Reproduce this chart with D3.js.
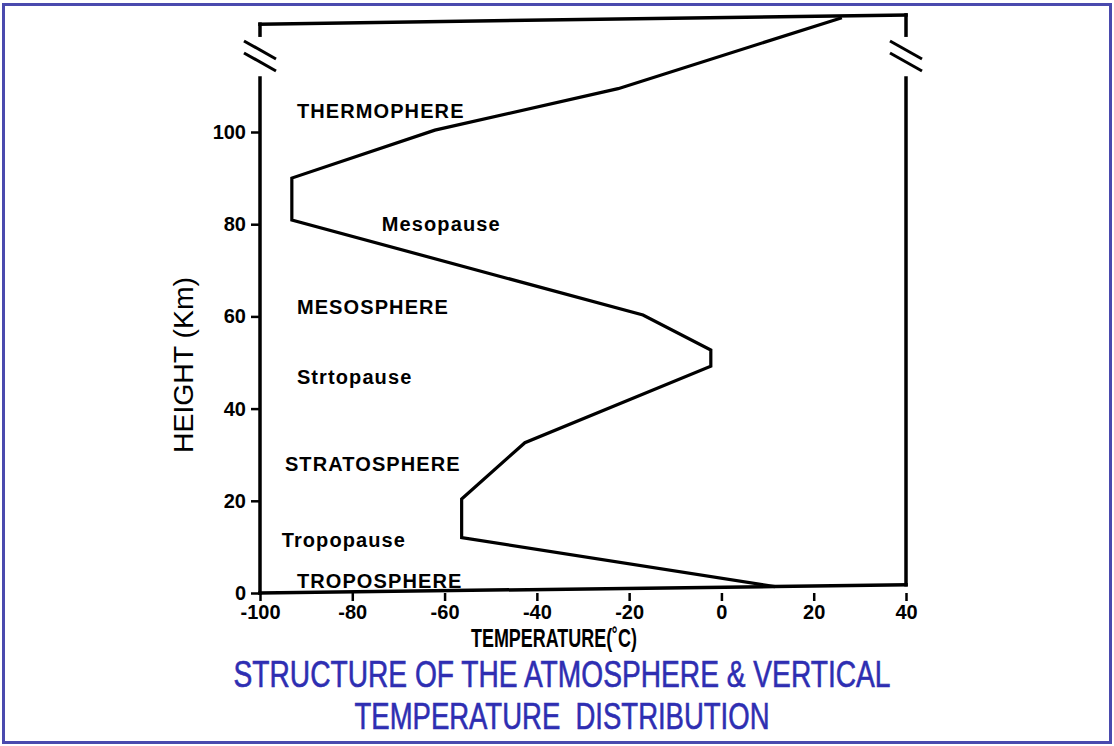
<!DOCTYPE html>
<html>
<head>
<meta charset="utf-8">
<script src="https://cdn.jsdelivr.net/npm/d3@7"></script>
<style>
  body { margin: 0; background: #fff; }
  text { font-family: "Liberation Sans", Arial, sans-serif; }
</style>
</head>
<body>
<div id="chart"></div>
<script>
// temperature profile (deg C vs km)
var profileTemp   = [11.6, -56.3, -56.3, -42.6, -2.3, -2.3, -17.0, -93.1, -93.1, -62.1, -22.4, 26.1];
var profileHeight = [1.4, 12.0, 20.4, 32.6, 49.2, 52.7, 60.3, 80.9, 90.0, 100.4, 109.4, 124.8];

// ground line and top of the (broken) frame
var groundTemp = [-100, 11.6, 40];
var groundHeight = [0, 1.4, 1.8];
var topTemp = [-100, 40];
var topHeight = [123.4, 125.4];

var xTicks = [-100, -80, -60, -40, -20, 0, 20, 40];
var yTicks = [0, 20, 40, 60, 80, 100];

var layerNames   = ["THERMOPHERE", "Mesopause", "MESOSPHERE", "Strtopause", "STRATOSPHERE", "Tropopause", "TROPOSPHERE"];
var layerTemps   = [-92.0, -73.6, -92.0, -92.0, -94.6, -95.3, -92.0];
var layerHeights = [104.7, 80.0, 62.1, 46.9, 28.0, 11.5, 2.7];

var titleLines = ["STRUCTURE OF THE ATMOSPHERE & VERTICAL", "TEMPERATURE  DISTRIBUTION"];

var W = 1114, H = 746;
var svg = d3.select("#chart").append("svg")
    .attr("width", W)
    .attr("height", H);

// blue outer border
svg.append("rect")
    .attr("x", 3.5).attr("y", 4.5)
    .attr("width", W - 7).attr("height", H - 8)
    .attr("fill", "none")
    .attr("stroke", "#4a4aae")
    .attr("stroke-width", 3);

var x = d3.scaleLinear().domain([-100, 40]).range([260, 906]);
var y = d3.scaleLinear().domain([0, 100]).range([593, 132]);

var line = d3.line()
    .x(function (d) { return x(d[0]); })
    .y(function (d) { return y(d[1]); });

// x axis ticks (the axis line itself is the ground line)
var xAxis = svg.append("g")
    .attr("transform", "translate(0," + y(0) + ")")
    .call(d3.axisBottom(x).tickValues(xTicks).tickSize(8).tickPadding(4)
      .tickFormat(function (d) { return String(d); }));
xAxis.select(".domain").remove();
xAxis.selectAll("line").attr("stroke", "#000").attr("stroke-width", 2.5);
xAxis.selectAll("text")
    .attr("fill", "#000")
    .style("font-size", "20px")
    .style("font-weight", "bold");

var yAxis = svg.append("g")
    .attr("transform", "translate(" + x(-100) + ",0)")
    .call(d3.axisLeft(y).tickValues(yTicks).tickSize(9).tickPadding(5)
      .tickFormat(function (d) { return String(d); }));
yAxis.select(".domain").remove();
yAxis.selectAll("line").attr("stroke", "#000").attr("stroke-width", 2.5);
yAxis.selectAll("text")
    .attr("fill", "#000")
    .style("font-size", "20px")
    .style("font-weight", "bold");

// frame: sides with break, ground, top
var breakLow = 111.7, breakHigh = 121.0, breakMid = 116.5;
var frame = svg.append("g")
    .attr("fill", "none")
    .attr("stroke", "#000")
    .attr("stroke-width", 3.5)
    .attr("stroke-linecap", "square");

frame.append("path").attr("d", line([[-100, 0], [-100, breakLow]]));
frame.append("path").attr("d", line([[-100, breakHigh], [-100, topHeight[0]]]));
frame.append("path").attr("d", line([[40, groundHeight[2]], [40, breakLow]]));
frame.append("path").attr("d", line([[40, breakHigh], [40, topHeight[1]]]));
frame.append("path").attr("d", line(d3.zip(groundTemp, groundHeight)));
frame.append("path").attr("d", line(d3.zip(topTemp, topHeight)));

// break marks
[-100, 40].forEach(function (t) {
  var cx = x(t), cy = y(breakMid);
  [-6, 6].forEach(function (off) {
    frame.append("line")
      .attr("stroke-width", 3)
      .attr("stroke-linecap", "butt")
      .attr("x1", cx - 16).attr("y1", cy + off - 9)
      .attr("x2", cx + 16).attr("y2", cy + off + 9);
  });
});

// temperature profile
svg.append("path")
    .attr("d", line(d3.zip(profileTemp, profileHeight)))
    .attr("fill", "none")
    .attr("stroke", "#000")
    .attr("stroke-width", 3.2)
    .attr("stroke-linejoin", "miter");

// layer names
svg.append("g").selectAll("text")
    .data(layerNames)
    .enter()
    .append("text")
      .attr("x", function (d, i) { return x(layerTemps[i]); })
      .attr("y", function (d, i) { return y(layerHeights[i]); })
      .attr("dy", "0.36em")
      .style("font-size", "20px")
      .style("font-weight", "bold")
      .style("letter-spacing", "1.1px")
      .text(function (d) { return d; });

// axis titles
svg.append("text")
    .attr("transform", "translate(193,365) rotate(-90)")
    .attr("text-anchor", "middle")
    .attr("textLength", 176)
    .attr("lengthAdjust", "spacingAndGlyphs")
    .style("font-size", "27px")
    .text("HEIGHT (Km)");

svg.append("text")
    .attr("x", 554).attr("y", 647)
    .attr("text-anchor", "middle")
    .attr("textLength", 166)
    .attr("lengthAdjust", "spacingAndGlyphs")
    .style("font-family", "'Liberation Sans Narrow', 'Arial Narrow', sans-serif")
    .style("font-size", "25px")
    .style("font-weight", "bold")
    .text("TEMPERATURE(\u02DAC)");

svg.append("g").selectAll("text")
    .data(titleLines)
    .enter()
    .append("text")
      .attr("x", 562)
      .attr("y", function (d, i) { return 687 + i * 42; })
      .attr("text-anchor", "middle")
      .attr("textLength", function (d, i) { return i === 0 ? 657 : 415; })
      .attr("lengthAdjust", "spacingAndGlyphs")
      .attr("fill", "#2e2eb2")
      .attr("stroke", "#2e2eb2")
      .attr("stroke-width", 0.6)
      .style("font-family", "'Liberation Sans Narrow', 'Arial Narrow', sans-serif")
      .style("font-size", "37px")
      .style("white-space", "pre")
      .text(function (d) { return d; });
</script>
</body>
</html>
